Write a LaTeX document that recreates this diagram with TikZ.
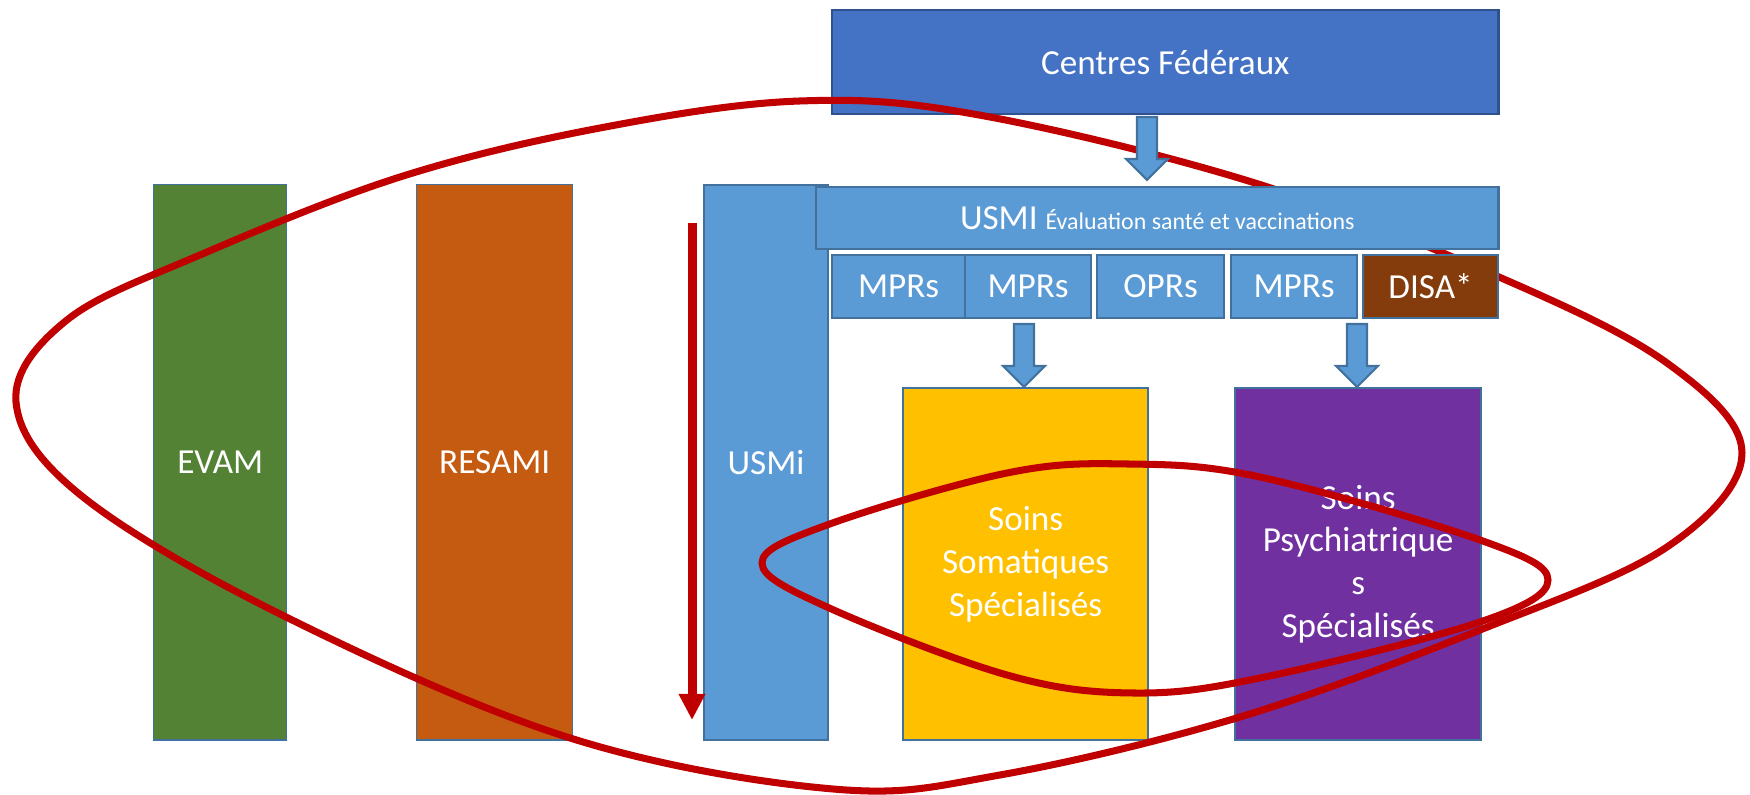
\documentclass[tikz,border=0pt]{standalone}
\usepackage{fontspec}
\setmainfont{Carlito}
\usetikzlibrary{arrows.meta}
\definecolor{cfblue}{HTML}{4472C4}
\definecolor{cfborder}{HTML}{2F528F}
\definecolor{lblue}{HTML}{5B9BD5}
\definecolor{bord}{HTML}{41719C}
\definecolor{evgreen}{HTML}{548235}
\definecolor{resorange}{HTML}{C55A11}
\definecolor{somyellow}{HTML}{FFC000}
\definecolor{psypurple}{HTML}{7030A0}
\definecolor{disabrown}{HTML}{843C0C}
\definecolor{darkred}{HTML}{C00000}
\tikzset{
  box/.style={draw=bord, line width=0.6pt, inner sep=0pt, anchor=north west,
    text=white, font=\fontsize{10}{12.2}\selectfont, align=center},
  tallbox/.style={box, line width=0.4pt, minimum height=5.55cm},
  smallbox/.style={box, fill=lblue, minimum height=0.63cm},
  blockarrow/.style={draw=bord, line width=0.6pt, fill=lblue, line join=miter},
  redcurve/.style={draw=darkred, line width=2pt},
  barrow/.pic={\path[blockarrow] (-10,0) -- (-10,42) -- (-21,42) -- (0,63) -- (21,42) -- (10,42) -- (10,0) -- cycle;}
}
\begin{document}
\begin{tikzpicture}[x=0.01cm,y=-0.01cm]
\useasboundingbox (0,0) rectangle (1750,795);

% tall columns
\node[tallbox, fill=evgreen, minimum width=1.33cm] (evam) at (153,184) {EVAM};
\node[tallbox, fill=resorange, minimum width=1.56cm] (resami) at (416,184) {RESAMI};
\node[tallbox, line width=0.6pt, fill=lblue, minimum width=1.24cm] (usmicol) at (703,184) {USMi};

% top box
\node[box, draw=cfborder, fill=cfblue, minimum width=6.66cm, minimum height=1.04cm] (centres) at (831,9) {Centres Fédéraux};

% care boxes
\node[box, fill=somyellow, minimum width=2.45cm, minimum height=3.52cm] (soma) at (902,387) {Soins\\Somatiques\\Spécialisés};
\node[box, fill=psypurple, minimum width=2.46cm, minimum height=3.52cm] (psy) at (1234,387) {Soins\\Psychiatrique\\s\\Spécialisés};

% MPR row
\node[smallbox, minimum width=1.33cm] (mpr1) at (831,254) {MPRs};
\node[smallbox, minimum width=1.26cm] (mpr2) at (964,254) {MPRs};
\node[smallbox, minimum width=1.27cm] (opr) at (1096,254) {OPRs};
\node[smallbox, minimum width=1.26cm] (mpr3) at (1230,254) {MPRs};

% block arrows to care boxes
\coordinate (a2) at (1024,324);
\coordinate (a3) at (1357,324);
\pic at (a2) {barrow};
\pic at (a3) {barrow};

% red curves
\draw[redcurve] plot[smooth cycle, tension=0.6] coordinates {
 (16,402) (67,320) (200,255) (400,177) (600,128) (800,101) (979,115)
 (1255,183) (1499,277) (1667,363) (1742,453) (1667,547) (1480,630)
 (1240,717) (1000,775) (833,789) (570,738) (286,617) (83,497)};
\draw[redcurve] plot[smooth cycle, tension=0.6] coordinates {
 (762,563) (827,525) (1007,473) (1127,464) (1260,477) (1480,540)
 (1548,580) (1480,622) (1260,678) (1133,693) (1007,675) (827,607)};

% red vertical arrow
\coordinate (rtop) at (692,223);
\coordinate (rbot) at (692,720);
\draw[darkred, line width=0.09cm, -{Triangle[width=0.25cm, length=0.26cm]}] (rtop) -- (rbot);

% elements above the red curve
\node[box, fill=lblue, minimum width=6.82cm, minimum height=0.62cm] (usmibar) at (815,186)
  {USMI {\fontsize{6.8}{8}\selectfont Évaluation santé et vaccinations}};
\node[box, fill=disabrown, minimum width=1.35cm, minimum height=0.63cm] (disa) at (1362,254) {DISA*};
\coordinate (a1) at (1147,117);
\pic at (a1) {barrow};
\end{tikzpicture}
\end{document}
